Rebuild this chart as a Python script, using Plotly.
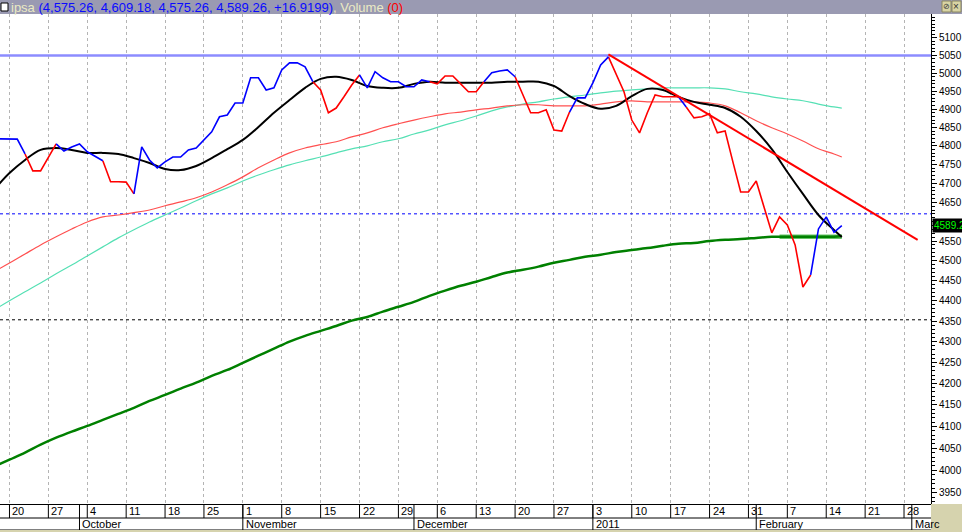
import numpy as np
import pandas as pd
import plotly.graph_objects as go

# ---------------- data ----------------
dates = pd.bdate_range("2010-09-16", "2011-02-16")  # trading days (110)

close = [
    4819, 4819, 4819, 4818, 4778, 4733, 4733, 4770, 4805, 4786,
    4797, 4805, 4784, 4773, 4760, 4704, 4704, 4703, 4672, 4797,
    4762, 4741, 4757, 4770, 4770, 4789, 4794, 4816, 4838, 4879,
    4884, 4917, 4917, 4987, 4987, 4953, 4959, 5009, 5029, 5029,
    5018, 4976, 4953, 4890, 4903, 4934, 4967, 4995, 4959, 5004,
    4987, 4976, 4976, 4962, 4962, 4981, 4976, 4970, 4992, 4992,
    4970, 4948, 4948, 4976, 5001, 5006, 5009, 4990, 4939, 4890,
    4890, 4898, 4843, 4840, 4892, 4931, 4931, 4973, 5023, 5046,
    4998, 4948, 4870, 4835, 4890, 4939, 4934, 4934, 4934, 4906,
    4876, 4879, 4887, 4835, 4840, 4757, 4677, 4677, 4706, 4638,
    4571, 4612, 4591, 4540, 4434, 4464, 4581, 4612, 4572.34, 4589.26,
]

# colour state of the segment that ends on each day (B = blue, R = red)
trend = ("BBBBB" "RRRR" "BBBBBB" "RRRR" "BBBBBBBBBBBBBBBBBBBBBBB" "RRRRRR"
         "BBBBBBBBB" "RRRRRRR" "BBBB" "RRRRRRR" "BBBBB" "RRRRRRRRR" "B"
         "RRRRRRRRRRRRRRRR" "BBBB")

ma_dates = list(dates[::2]) + [dates[-1]]

ma_black = [
    4683, 4727, 4762, 4789, 4794, 4789, 4781, 4781, 4778, 4767,
    4754, 4738, 4735, 4746, 4767, 4791, 4816, 4851, 4890, 4925,
    4959, 4984, 4990, 4981, 4964, 4959, 4959, 4970, 4976, 4973,
    4973, 4973, 4973, 4976, 4976, 4976, 4964, 4936, 4914, 4901,
    4909, 4936, 4956, 4953, 4934, 4920, 4912, 4903, 4879, 4840,
    4791, 4730, 4672, 4617, 4578, 4560,
]
ma_red = [
    4472, 4494, 4517, 4540, 4561, 4581, 4599, 4612, 4617, 4623,
    4630, 4641, 4651, 4662, 4677, 4696, 4717, 4741, 4762, 4781,
    4794, 4803, 4811, 4824, 4835, 4849, 4860, 4870, 4879, 4887,
    4892, 4898, 4903, 4909, 4912, 4912, 4909, 4909, 4909, 4914,
    4920, 4923, 4920, 4920, 4920, 4920, 4917, 4909, 4890, 4868,
    4849, 4832, 4813, 4792, 4778, 4770,
]
ma_cyan = [
    4377, 4400, 4422, 4444, 4467, 4489, 4512, 4535, 4558, 4579,
    4599, 4617, 4635, 4654, 4672, 4688, 4706, 4722, 4736, 4749,
    4760, 4770, 4781, 4792, 4800, 4811, 4819, 4832, 4843, 4857,
    4868, 4881, 4895, 4906, 4914, 4920, 4928, 4934, 4939, 4945,
    4950, 4953, 4956, 4959, 4959, 4959, 4959, 4956, 4948, 4942,
    4934, 4928, 4923, 4914, 4906, 4903,
]
ma_green = [
    4008, 4024, 4040, 4058, 4074, 4088, 4101, 4115, 4129, 4143,
    4159, 4173, 4188, 4202, 4218, 4232, 4249, 4266, 4283, 4300,
    4314, 4326, 4338, 4351, 4360, 4373, 4385, 4397, 4412, 4425,
    4437, 4447, 4459, 4470, 4477, 4485, 4495, 4502, 4510, 4515,
    4522, 4527, 4532, 4538, 4543, 4545, 4550, 4553, 4555, 4558,
    4561, 4561, 4561, 4561, 4561, 4563,
]

trendline_dates = ["2011-01-05", "2011-03-01 18:00"]
trendline_vals = [5053, 4553]
support_dates = [dates[101], dates[109]]
support_level = 4561
resistance_level = 5050
blue_level = 4620
black_level = 4353

y_ticks = list(range(3950, 5101, 50))
y_range_vals = [3925, 5169]
x_range = ["2010-09-16 18:45", "2011-03-03 11:15"]
mondays = pd.date_range("2010-09-20", "2011-02-28", freq="W-MON")
month_starts = ["2010-10-01", "2010-11-01", "2010-12-01", "2011-01-03", "2011-02-01", "2011-03-01"]
month_labels = ["October", "November", "December", "2011", "February", "Marc"]

symbol = "ipsa"
header_ohlc = [4575.26, 4609.18, 4575.26, 4589.26]
header_change = 16.9199
volume = 0

# ---------------- figure ----------------
FONT = "Liberation Sans, Arial, sans-serif"
W, H = 962, 532
ML, MR, MT, MB = 0, 31, 14, 28
PW, PH = W - ML - MR, H - MT - MB


def px(x):
    return x / PW


def py(y):
    return (H - MB - y) / PH


def ds(d):
    return pd.Timestamp(d).strftime("%Y-%m-%d %H:%M")


fig = go.Figure()

# horizontal levels
fig.add_trace(go.Scatter(x=x_range, y=[resistance_level] * 2, mode="lines",
                         line=dict(color="#8c8cff", width=2.5), hoverinfo="skip"))
fig.add_trace(go.Scatter(x=x_range, y=[blue_level] * 2, mode="lines",
                         line=dict(color="#0000ff", width=1, dash="dot"), hoverinfo="skip"))
fig.add_trace(go.Scatter(x=x_range, y=[black_level] * 2, mode="lines",
                         line=dict(color="#000000", width=1, dash="dot"), hoverinfo="skip"))

# moving averages
fig.add_trace(go.Scatter(x=[ds(d) for d in ma_dates], y=ma_cyan, mode="lines", line_shape="spline",
                         line=dict(color="#55e0b4", width=1.2)))
fig.add_trace(go.Scatter(x=[ds(d) for d in ma_dates], y=ma_red, mode="lines", line_shape="spline",
                         line=dict(color="#ff5050", width=1.2)))
fig.add_trace(go.Scatter(x=[ds(d) for d in support_dates], y=[support_level] * 2, mode="lines",
                         line=dict(color="#66c466", width=4.5)))
fig.add_trace(go.Scatter(x=[ds(d) for d in ma_dates], y=ma_green, mode="lines", line_shape="spline",
                         line=dict(color="#008000", width=2.5)))
fig.add_trace(go.Scatter(x=[ds(d) for d in ma_dates], y=ma_black, mode="lines", line_shape="spline",
                         line=dict(color="#000000", width=2)))


def segments(flag):
    xs, ys = [], []
    last = None
    for k in range(1, len(close)):
        if trend[k] != flag:
            continue
        if last != k - 1:
            if xs:
                xs.append(None)
                ys.append(None)
            xs.append(ds(dates[k - 1]))
            ys.append(close[k - 1])
        xs.append(ds(dates[k]))
        ys.append(close[k])
        last = k
    return xs, ys


rx, ry = segments("R")
bx, by = segments("B")
fig.add_trace(go.Scatter(x=rx, y=ry, mode="lines", line=dict(color="#ff0000", width=1.6), connectgaps=False))
fig.add_trace(go.Scatter(x=bx, y=by, mode="lines", line=dict(color="#0000ff", width=1.6), connectgaps=False))

# trend line
fig.add_trace(go.Scatter(x=trendline_dates, y=trendline_vals, mode="lines",
                         line=dict(color="#ff0000", width=2)))

shapes = []
annotations = []

# header bar
shapes.append(dict(type="rect", xref="paper", yref="paper", x0=px(0), x1=px(W), y0=py(MT), y1=py(0),
                   fillcolor="#9a9ab2", line=dict(width=0), layer="above"))
shapes.append(dict(type="rect", xref="paper", yref="paper", x0=px(1), x1=px(8), y0=py(11), y1=py(3),
                   fillcolor="white", line=dict(color="black", width=1), layer="above"))
for x0 in (942, 952):
    shapes.append(dict(type="rect", xref="paper", yref="paper", x0=px(x0), x1=px(x0 + 9), y0=py(12), y1=py(1),
                       fillcolor="#d8d4a4", line=dict(color="#8a8660", width=1), layer="above"))
annotations.append(dict(xref="paper", yref="paper", x=px(946.5), y=py(6.5), text="⊘", showarrow=False,
                        font=dict(size=8, color="#333"), xanchor="center", yanchor="middle"))
annotations.append(dict(xref="paper", yref="paper", x=px(956.5), y=py(6.5), text="×", showarrow=False,
                        font=dict(size=10, color="#333"), xanchor="center", yanchor="middle"))

ohlc_txt = ", ".join(f"{v:,.2f}" for v in header_ohlc) + f", +{header_change}"
header = (f'<span style="color:#ebeac4">{symbol} </span>'
          f'<span style="color:#0a0aff">({ohlc_txt})</span>'
          f'<span style="color:#ebeac4">, Volume </span>'
          f'<span style="color:#ff0000">({volume})</span>')
annotations.append(dict(xref="paper", yref="paper", x=px(9), y=py(7.5), text=header, showarrow=False,
                        xanchor="left", yanchor="middle", font=dict(family=FONT, size=13)))

# date axis boxes
row1, row2, row3 = py(H - MB), py(H - MB + 14), py(H - MB + 26)
shapes.append(dict(type="line", xref="paper", yref="paper", x0=0, x1=1, y0=row2, y1=row2,
                   line=dict(color="black", width=1)))
shapes.append(dict(type="line", xref="paper", yref="paper", x0=0, x1=1, y0=row3, y1=row3,
                   line=dict(color="black", width=1)))
shapes.append(dict(type="rect", xref="paper", yref="paper", x0=0, x1=px(W), y0=py(H), y1=row3,
                   fillcolor="#d6d3ae", line=dict(width=0)))
shapes.append(dict(type="rect", xref="paper", yref="paper", x0=1, x1=px(W), y0=py(H), y1=row1,
                   fillcolor="#d6d3ae", line=dict(width=0)))
for m in mondays:
    shapes.append(dict(type="line", xref="x", yref="paper", x0=ds(m), x1=ds(m), y0=row1, y1=row2,
                       line=dict(color="black", width=1)))
    annotations.append(dict(xref="x", yref="paper", x=ds(m), y=(row1 + row2) / 2, text=str(m.day),
                            showarrow=False, xanchor="left", yanchor="middle", xshift=1,
                            font=dict(family=FONT, size=11, color="black")))
for ms, lab in zip(month_starts, month_labels):
    shapes.append(dict(type="line", xref="x", yref="paper", x0=ms, x1=ms, y0=row1, y1=row3,
                       line=dict(color="black", width=1)))
    annotations.append(dict(xref="x", yref="paper", x=ms, y=(row2 + row3) / 2, text=lab,
                            showarrow=False, xanchor="left", yanchor="middle", xshift=1,
                            font=dict(family=FONT, size=11, color="black")))

# last price tag
annotations.append(dict(xref="paper", yref="y", x=1, y=np.log10(close[-1]), text=f"{close[-1]:.2f}",
                        showarrow=False, xanchor="left", yanchor="middle", xshift=1,
                        bgcolor="black", borderpad=1, font=dict(family=FONT, size=10, color="#00ff00")))

# the tick label hidden under the price tag in the original
y_ticktext = ["" if abs(v - close[-1]) < 15 else str(v) for v in y_ticks]

fig.update_layout(
    width=W, height=H, autosize=False,
    margin=dict(l=ML, r=MR, t=MT, b=MB, pad=0, autoexpand=False),
    paper_bgcolor="white", plot_bgcolor="white", showlegend=False,
    font=dict(family=FONT, size=11, color="black"),
    shapes=shapes, annotations=annotations,
    xaxis=dict(type="date", range=x_range, rangebreaks=[dict(bounds=["sat", "mon"])],
               tickmode="array", tickvals=[ds(m) for m in mondays], showticklabels=False, ticks="",
               showgrid=True, gridcolor="#b4b4b4", griddash="dot", gridwidth=1,
               showline=True, linecolor="black", linewidth=1, zeroline=False, fixedrange=True,
               automargin=False),
    yaxis=dict(type="log", range=[np.log10(y_range_vals[0]), np.log10(y_range_vals[1])], side="right",
               tickmode="array", tickvals=y_ticks, ticktext=y_ticktext,
               ticks="outside", ticklen=5, tickcolor="black", showgrid=False, automargin=False,
               showline=True, linecolor="black", linewidth=1, zeroline=False, fixedrange=True,
               tickfont=dict(family=FONT, size=10, color="black"),
               minor=dict(tickmode="linear", tick0=0, dtick="L10", ticks="outside", ticklen=3,
                          tickcolor="black", showgrid=False)),
)

fig.write_html("out.html", config={"displayModeBar": False},
               post_script="document.body.style.margin='0px';document.body.style.overflow='hidden';")
